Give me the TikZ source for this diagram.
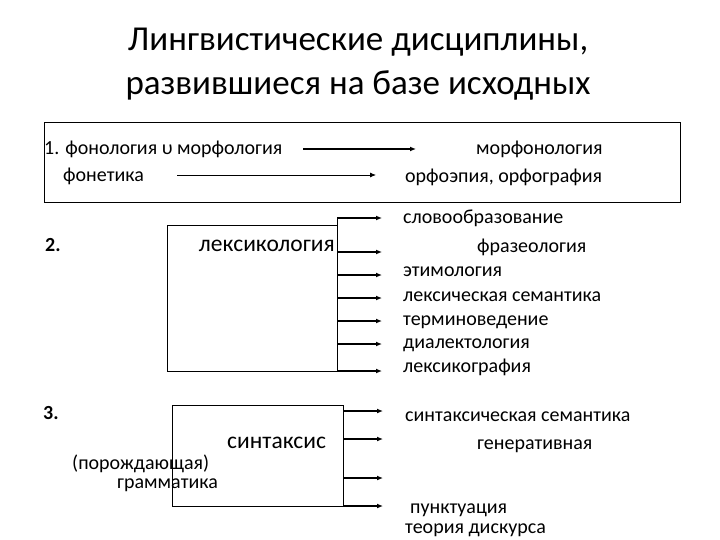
\documentclass[tikz,border=0pt]{standalone}
\usepackage{fontspec}
\setmainfont{Carlito}
\usetikzlibrary{arrows.meta,positioning}
\tikzset{
  txt/.style={ inner sep=0pt, anchor=west, yshift=-4pt, text height=0.75em, text depth=0.25em, font=\fontsize{20}{22}\selectfont }
}
\tikzset{
  bigtxt/.style={ txt, font=\fontsize{23.5}{26}\selectfont }
}
\tikzset{
  boxline/.style={ draw, line width=0.8pt }
}
\tikzset{
  arr/.style={ -{Latex[length=6pt,width=5pt]}, line width=1.3pt }
}
\tikzset{
  thinarr/.style={ -{Latex[length=6pt,width=5pt]}, line width=0.8pt }
}

\begin{document}
\begin{tikzpicture}[x=1pt, y=-1pt]
      \useasboundingbox (0,0) rectangle (720,540);

      \node[align=center, font=\fontsize{35}{44}\selectfont] (title) at (358,64)
        {Лингвистические дисциплины,\\развившиеся на базе исходных};

      % block 1
      \draw[boxline] (44,122) rectangle (680,202);
      \node[txt] (fonmorf) at (44,148) {1. фонология υ морфология};
      \node[txt] (fonet) at (63,175) {фонетика};
      \node[txt] (morfon) at (476,148) {морфонология};
      \node[txt] (orfo) at (405,176) {орфоэпия, орфография};
      \coordinate (a1s) at (303,149);
      \coordinate (a1e) at (416,149);
      \coordinate (a2s) at (177,175);
      \coordinate (a2e) at (376,175);

      % block 2
      \node[txt, font=\bfseries\fontsize{20}{22}\selectfont] (n2) at (45,245) {2.};
      \draw[boxline] (167,225) rectangle (337,371);
      \node[bigtxt, anchor=east] (lex) at (335,245) {лексикология};
      \coordinate (spine2t) at (337,218);
      \coordinate (spine2b) at (337,371);
      \node[txt] (slovo) at (403,217) {словообразование};
      \node[txt] (fraz) at (477,246) {фразеология};
      \node[txt] (etim) at (403,270) {этимология};
      \node[txt] (lsem) at (403,295) {лексическая семантика};
      \node[txt] (term) at (403,319) {терминоведение};
      \node[txt] (dial) at (403,342) {диалектология};
      \node[txt] (lgraf) at (403,366) {лексикография};

      % block 3
      \node[txt, font=\bfseries\fontsize{20}{22}\selectfont] (n3) at (43,413) {3.};
      \draw[boxline] (172,405) rectangle (343,506);
      \node[bigtxt] (sint) at (227,442) {синтаксис};
      \node[txt] (porozh) at (72,463) {(порождающая)};
      \node[txt] (gramm) at (117,482) {грамматика};
      \node[txt] (ssem) at (405,415) {синтаксическая семантика};
      \node[txt] (gener) at (477,443) {генеративная};
      \node[txt] (punkt) at (410,507) {пунктуация};
      \node[txt] (diskurs) at (405,527) {теория дискурса};

      \begin{scope}[arr]
        \draw (a1s) -- (a1e);
        \draw[thinarr] (a2s) -- (a2e);
        \draw[-, line width=1pt] (spine2t) -- (spine2b);
        \foreach \yy [count=\i] in {218,252,275,298,321,344,371} {
          \coordinate (l\i) at (337,\yy);
          \coordinate (le\i) at (382,\yy);
          \draw (l\i) -- (le\i);
        }
        \foreach \yy [count=\i] in {411,439,478,506} {
          \coordinate (s\i) at (343,\yy);
          \coordinate (se\i) at (383,\yy);
          \draw (s\i) -- (se\i);
        }
      \end{scope}
    \end{tikzpicture}
\end{document}
